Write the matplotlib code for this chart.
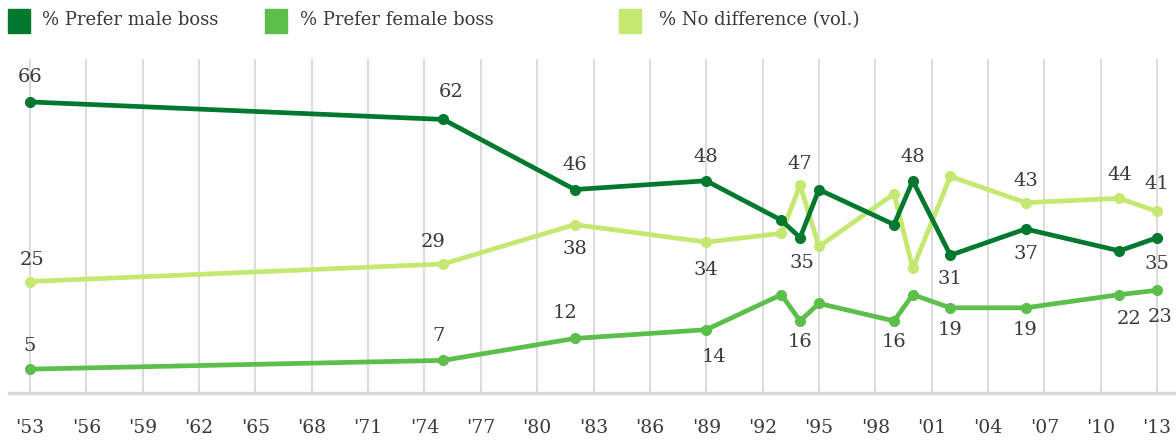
import matplotlib
matplotlib.use("Agg")
import matplotlib.pyplot as plt
from matplotlib.patches import Rectangle

# ---- data ----
years = [1953, 1975, 1982, 1989, 1993, 1994, 1995, 1999, 2000, 2002, 2006, 2011, 2013]
male = [66, 62, 46, 48, 39, 35, 46, 38, 48, 31, 37, 32, 35]
female = [5, 7, 12, 14, 22, 16, 20, 16, 22, 19, 19, 22, 23]
nodiff = [25, 29, 38, 34, 36, 47, 33, 45, 28, 49, 43, 44, 41]
series_names = ["% Prefer male boss", "% Prefer female boss", "% No difference (vol.)"]
tick_years = list(range(1953, 2014, 3))
tick_labels = ["'%02d" % (y % 100) for y in tick_years]

# ---- style ----
colors = ["#00792f", "#5cbf4c", "#c5e870"]
text_color = "#3a3a3a"
FONT = "DejaVu Serif"

# label placement (index -> pixel offset from point)
male_lbl = {0: (0, 25), 1: (8, 27), 2: (0, 25), 3: (0, 24), 5: (2, -25),
            8: (0, 24), 9: (0, -24), 10: (0, -25), 12: (0, -26)}
nodiff_lbl = {0: (2, 22), 1: (-10, 22), 2: (0, -24), 3: (0, -28), 5: (0, 21),
              10: (0, 22), 11: (0, 23), 12: (0, 27)}
female_lbl = {0: (0, 23), 1: (-5, 24), 2: (-10, 25), 3: (8, -27), 5: (0, -21),
              7: (0, -21), 9: (0, -22), 10: (0, -22), 11: (10, -24), 12: (3, -27)}

W, H = 1176, 445
fig = plt.figure(figsize=(W / 100, H / 100), dpi=100)
ax = fig.add_axes([9 / W, 1 - 393 / H, (1175 - 9) / W, (393 - 59) / H])

for vals, col, z in [(female, colors[1], 3), (nodiff, colors[2], 4), (male, colors[0], 5)]:
    ax.plot(years, vals, color=col, lw=3.4, marker="o", ms=7, zorder=z,
            solid_joinstyle="round", solid_capstyle="round")

for vals, lbls in [(male, male_lbl), (nodiff, nodiff_lbl), (female, female_lbl)]:
    for i, (dx, dy) in lbls.items():
        ax.annotate(str(vals[i]), (years[i], vals[i]), xytext=(dx, dy),
                    textcoords="offset pixels", ha="center", va="center",
                    fontsize=14, family=FONT, color=text_color, zorder=10)

ax.set_xlim(1953 - 21 / 18.77, 2013 + 18 / 18.77)
ax.set_ylim(-0.45, 75.8)
ax.set_xticks(tick_years)
ax.set_xticklabels(tick_labels, family=FONT, fontsize=13.5, color=text_color)
ax.set_yticks([])
ax.tick_params(axis="x", length=0, pad=19)
ax.grid(axis="x", color="#dcdcdc", lw=1.5, zorder=0)
for s in ["top", "left", "right"]:
    ax.spines[s].set_visible(False)
ax.spines["bottom"].set_color("#d9d9d9")
ax.spines["bottom"].set_linewidth(2.5)

# legend
legend_x = [(8, 42), (265, 300), (619, 659)]
for (sx, tx), col, name in zip(legend_x, colors, series_names):
    fig.patches.append(Rectangle((sx / W, 1 - 33 / H), 22 / W, 24 / H,
                                 transform=fig.transFigure, color=col))
    fig.text(tx / W, 1 - 20 / H, name, family=FONT, fontsize=13,
             color=text_color, va="center", ha="left")

fig.savefig("out.png", dpi=100)
